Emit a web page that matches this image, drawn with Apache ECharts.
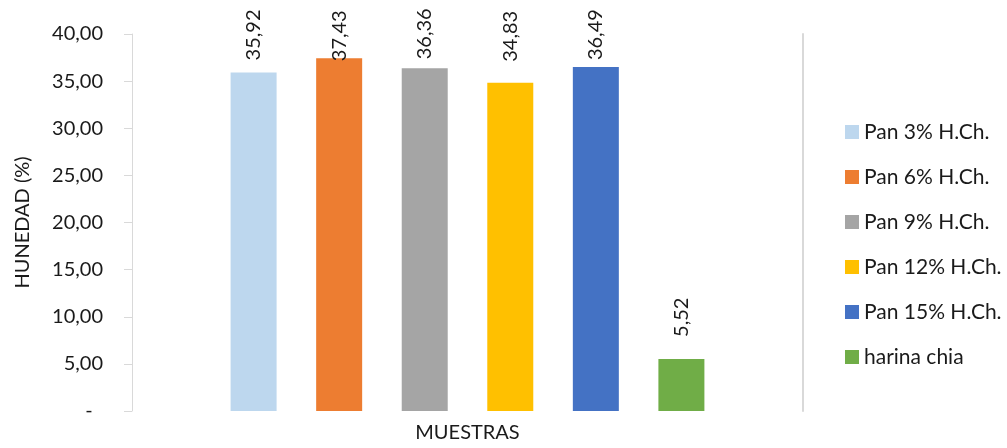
<!DOCTYPE html>
<html>
<head>
<meta charset="utf-8">
<script src="https://cdn.jsdelivr.net/npm/echarts@6/dist/echarts.min.js"></script>
<style>
  html, body { margin: 0; padding: 0; background: #ffffff; }
  #chart { width: 1007px; height: 448px; }
</style>
</head>
<body>
<div id="chart"></div>
<script>
// Humedad de las muestras de pan con harina de chía
const seriesNames = ['Pan 3% H.Ch.', 'Pan 6% H.Ch.', 'Pan 9% H.Ch.', 'Pan 12% H.Ch.', 'Pan 15% H.Ch.', 'harina chia'];
const seriesValues = [35.92, 37.43, 36.36, 34.83, 36.49, 5.52];
const categories = ['MUESTRAS'];
const yMin = 0;
const yMax = 40;
const yStep = 5;

const colors = ['#BDD7EE', '#ED7D31', '#A5A5A5', '#FFC000', '#4472C4', '#70AD47'];
// label offsets above each bar (labels near the top are kept inside the chart area)
const labelDistances = [12, -3, 9, 21, 7, 22];

const FONT = 'Lato, "Open Sans", sans-serif';
const FS = 20;
const TXT = '#1a1a1a';
const LINE = '#d9d9d9';

function fmtComma(v) {
  return v.toFixed(2).replace('.', ',');
}

const chart = echarts.init(document.getElementById('chart'), null, { renderer: 'canvas', width: 1007, height: 448 });

const series = seriesNames.map((name, i) => ({
  type: 'bar',
  name: name,
  data: [seriesValues[i]],
  barWidth: 46,
  barGap: '86%',
  itemStyle: { color: colors[i] },
  emphasis: { disabled: true },
  label: {
    show: true,
    position: 'top',
    rotate: 90,
    align: 'left',
    verticalAlign: 'middle',
    distance: labelDistances[i],
    formatter: p => fmtComma(p.value),
    fontFamily: FONT,
    fontSize: FS,
    color: TXT
  }
}));

chart.setOption({
  animation: false,
  backgroundColor: '#ffffff',
  grid: { left: 132, width: 671, top: 34, height: 385, containLabel: false },
  legend: {
    orient: 'vertical',
    left: 845,
    top: 120,
    padding: 0,
    icon: 'rect',
    itemWidth: 14,
    itemHeight: 14,
    itemGap: 21,
    data: seriesNames,
    textStyle: { fontFamily: FONT, fontSize: 21, color: TXT, lineHeight: 24 }
  },
  xAxis: {
    type: 'category',
    data: categories,
    name: 'MUESTRAS',
    nameLocation: 'middle',
    nameGap: 12,
    nameTextStyle: { fontFamily: FONT, fontSize: FS, color: TXT, verticalAlign: 'top' },
    axisLine: { show: false },
    axisTick: { show: false },
    axisLabel: { show: false },
    splitLine: { show: false }
  },
  yAxis: [
    {
      type: 'value',
      min: yMin,
      max: yMax,
      interval: yStep,
      name: 'HUNEDAD (%)',
      nameLocation: 'middle',
      nameGap: 99,
      nameTextStyle: { fontFamily: FONT, fontSize: FS, color: TXT },
      axisLine: { show: true, lineStyle: { color: LINE, width: 1 } },
      axisTick: { show: true, inside: false, length: 8, lineStyle: { color: LINE } },
      axisLabel: {
        margin: 29,
        fontFamily: FONT,
        fontSize: FS,
        color: TXT,
        formatter: v => (v === 0 ? '-  ' : fmtComma(v))
      },
      splitLine: { show: false }
    },
    {
      type: 'value',
      position: 'right',
      min: yMin,
      max: yMax,
      interval: yStep,
      axisLine: { show: true, lineStyle: { color: LINE, width: 2 } },
      axisTick: { show: false },
      axisLabel: { show: false },
      splitLine: { show: false }
    }
  ],
  series: series
});
</script>
</body>
</html>
